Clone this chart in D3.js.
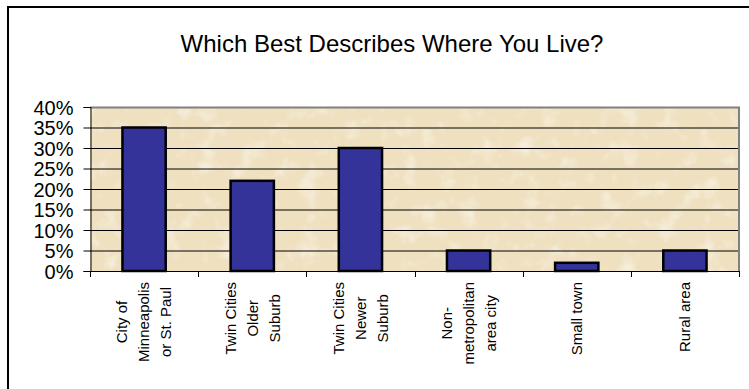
<!DOCTYPE html>
<html>
<head>
<meta charset="utf-8">
<script src="https://cdn.jsdelivr.net/npm/d3@7"></script>
<style>
    body { margin: 0; background: #fff; }
    svg { display: block; font-family: Arial, "Liberation Sans", sans-serif; }
</style>
</head>
<body>
<div id="chart"></div>
<script>
// categories, one array of lines per label
var categories = ["City", "Older", "Newer", "NonMetro", "Small", "Rural"];
var labelLines = [
    ["City of", "Minneapolis", "or St. Paul"],
    ["Twin Cities", "Older", "Suburb"],
    ["Twin Cities", "Newer", "Suburb"],
    ["Non-", "metropolitan", "area city"],
    ["Small town"],
    ["Rural area"]
];
var values = [35, 22, 30, 5, 2, 5];
var yTicks = [0, 5, 10, 15, 20, 25, 30, 35, 40];
var title = "Which Best Describes Where You Live?";

var width = 749,
    height = 389;
var margin = {left: 90, right: 10, top: 107, bottom: 118};

var svg = d3.select("#chart").append("svg")
    .attr("width", width)
    .attr("height", height);

// parchment texture for the plot area
var defs = svg.append("defs");
var filter = defs.append("filter").attr("id", "paper")
    .attr("x", 0).attr("y", 0).attr("width", 1).attr("height", 1);
filter.append("feTurbulence")
    .attr("type", "fractalNoise")
    .attr("baseFrequency", 0.05)
    .attr("numOctaves", 4)
    .attr("seed", 7)
    .attr("result", "noise");
// darker tan blotches
filter.append("feColorMatrix")
    .attr("in", "noise")
    .attr("type", "matrix")
    .attr("values", "0 0 0 0 0.87  0 0 0 0 0.76  0 0 0 0 0.56  1.6 0 0 0 -0.75")
    .attr("result", "dark");
// lighter whitish blotches
filter.append("feColorMatrix")
    .attr("in", "noise")
    .attr("type", "matrix")
    .attr("values", "0 0 0 0 0.97  0 0 0 0 0.94  0 0 0 0 0.86  0 -1.6 0 0 0.75")
    .attr("result", "light");
filter.append("feFlood").attr("flood-color", "#efe0bf").attr("result", "base");
filter.append("feComposite").attr("in", "dark").attr("in2", "base").attr("operator", "over").attr("result", "mix1");
filter.append("feComposite").attr("in", "light").attr("in2", "mix1").attr("operator", "over").attr("result", "mix");
filter.append("feComposite").attr("in", "mix").attr("in2", "SourceGraphic").attr("operator", "in");

// outer frame (top and left edges only show)
svg.append("path")
    .attr("d", "M8,389 V7 H749")
    .attr("fill", "none")
    .attr("stroke", "#000")
    .attr("stroke-width", 2);

var x = d3.scaleBand()
    .domain(categories)
    .range([margin.left, width - margin.right])
    .paddingInner(0.6)
    .paddingOuter(0.3);

var y = d3.scaleLinear()
    .domain([0, 40])
    .range([height - margin.bottom, margin.top]);

var plotW = width - margin.right - margin.left,
    plotH = y(0) - y(40);

svg.append("rect")
    .attr("x", margin.left)
    .attr("y", margin.top)
    .attr("width", plotW)
    .attr("height", plotH)
    .attr("fill", "#f0e1c0")
    .attr("filter", "url(#paper)");

// gridlines
svg.append("g").selectAll("line")
    .data(yTicks.filter(function(d) { return d > 0 && d < 40; }))
    .enter().append("line")
    .attr("x1", margin.left).attr("x2", margin.left + plotW)
    .attr("y1", function(d) { return y(d) + 0.5; })
    .attr("y2", function(d) { return y(d) + 0.5; })
    .attr("stroke", "#000")
    .attr("stroke-width", 1);

// gray top and right edges of the plot area
svg.append("path")
    .attr("d", "M" + margin.left + "," + (margin.top + 0.5) + " H" + (margin.left + plotW) + " V" + y(0))
    .attr("fill", "none")
    .attr("stroke", "#808080")
    .attr("stroke-width", 2);

// bars
svg.append("g").selectAll("rect")
    .data(values)
    .enter().append("rect")
    .attr("x", function(d, i) { return x(categories[i]); })
    .attr("y", function(d) { return y(d); })
    .attr("width", x.bandwidth())
    .attr("height", function(d) { return y(0) - y(d); })
    .attr("fill", "#333399")
    .attr("stroke", "#000")
    .attr("stroke-width", 2.5);

// y axis
var yAxis = svg.append("g")
    .attr("transform", "translate(" + (margin.left + 0.5) + ",0)")
    .call(d3.axisLeft(y).tickValues(yTicks).tickSize(7).tickPadding(10)
        .tickFormat(function(d) { return d + "%"; }));
yAxis.select(".domain").attr("stroke", "#000");
yAxis.selectAll(".tick line").attr("stroke", "#000");
yAxis.selectAll("text")
    .attr("font-size", 20)
    .attr("font-family", "Arial, 'Liberation Sans', sans-serif")
    .attr("fill", "#000")
    .attr("dy", "0.36em");

// x axis with ticks at band boundaries
var bounds = d3.range(categories.length + 1).map(function(i) {
    return margin.left + i * plotW / categories.length;
});
var xAxisG = svg.append("g");
xAxisG.append("line")
    .attr("x1", margin.left).attr("x2", margin.left + plotW)
    .attr("y1", y(0) + 0.5).attr("y2", y(0) + 0.5)
    .attr("stroke", "#000");
xAxisG.selectAll("line.tick")
    .data(bounds)
    .enter().append("line")
    .attr("class", "tick")
    .attr("x1", function(d) { return Math.round(d) + 0.5; })
    .attr("x2", function(d) { return Math.round(d) + 0.5; })
    .attr("y1", y(0)).attr("y2", y(0) + 6)
    .attr("stroke", "#000");

// rotated category labels
var lineGap = 22;
var labels = svg.append("g").selectAll("g")
    .data(labelLines)
    .enter().append("g");
labels.each(function(lines, i) {
    var g = d3.select(this);
    var cx = x(categories[i]) + x.bandwidth() / 2;
    var t = g.append("text")
        .attr("font-size", 15)
        .attr("fill", "#000")
        .attr("text-anchor", "middle");
    t.selectAll("tspan").data(lines).enter().append("tspan")
        .attr("x", 0)
        .attr("y", function(d, j) { return (j - (lines.length - 1) / 2) * lineGap; })
        .attr("dy", "0.35em")
        .text(function(d) { return d; });
    var maxLen = d3.max(t.selectAll("tspan").nodes(), function(n) { return n.getComputedTextLength(); });
    var cy = 282 + maxLen / 2;
    g.attr("transform", "translate(" + cx + "," + cy + ") rotate(-90)");
});

// title
svg.append("text")
    .attr("x", 392)
    .attr("y", 52)
    .attr("text-anchor", "middle")
    .attr("font-size", 24)
    .attr("fill", "#000")
    .text(title);
</script>
</body>
</html>
